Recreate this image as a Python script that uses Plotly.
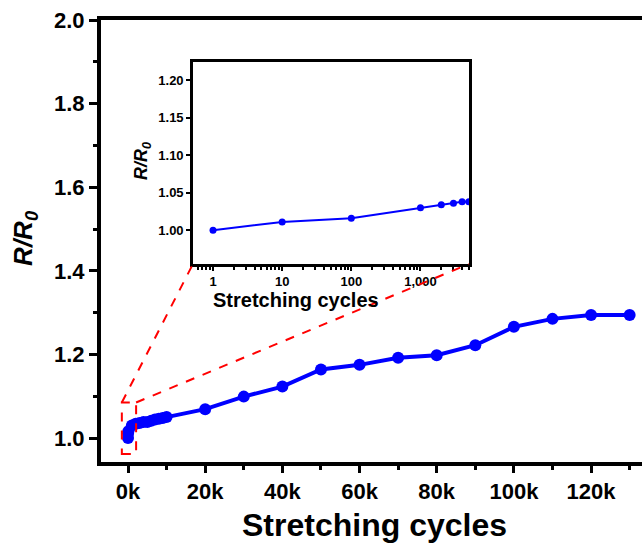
import plotly.graph_objects as go

# ---- data ----
cycles = [1, 10, 100, 1000, 2000, 3000, 4000, 5000, 6000, 7000, 8000, 9000, 10000,
          20000, 30000, 40000, 50000, 60000, 70000, 80000, 90000, 100000, 110000,
          120000, 130000]
r_ratio = [1.000, 1.011, 1.016, 1.030, 1.034, 1.036, 1.038, 1.038, 1.041, 1.044,
           1.046, 1.048, 1.050, 1.069, 1.099, 1.123, 1.164, 1.175, 1.192, 1.198,
           1.222, 1.266, 1.285, 1.294, 1.294]
inset_cycles = cycles[:8]
inset_ratio = r_ratio[:8]

main_xticks = [0, 20000, 40000, 60000, 80000, 100000, 120000]
main_xticktext = ["0k", "20k", "40k", "60k", "80k", "100k", "120k"]
main_yticks = [1.0, 1.2, 1.4, 1.6, 1.8, 2.0]
main_yticktext = ["1.0", "1.2", "1.4", "1.6", "1.8", "2.0"]
inset_xticks = [1, 10, 100, 1000]
inset_xticktext = ["1", "10", "100", "1,000"]
inset_yticks = [1.00, 1.05, 1.10, 1.15, 1.20]
inset_yticktext = ["1.00", "1.05", "1.10", "1.15", "1.20"]

FONT = "Arial, Liberation Sans, sans-serif"
BLUE = "#0000FF"

# layout geometry (pixels)
W, H = 642, 547
L, R, T, B = 101, 0, 20, 85
XR = [-7000, 133200]
YR = [0.9426, 2.0]
inset_dom_x = [0.170, 0.680]
inset_dom_y = [0.448, 0.905]

fig = go.Figure()
fig.add_trace(go.Scatter(
    x=cycles, y=r_ratio, mode="lines+markers",
    line=dict(color=BLUE, width=4), marker=dict(color=BLUE, size=12),
    xaxis="x", yaxis="y", showlegend=False))
fig.add_trace(go.Scatter(
    x=inset_cycles, y=inset_ratio, mode="lines+markers",
    line=dict(color=BLUE, width=2), marker=dict(color=BLUE, size=7),
    xaxis="x2", yaxis="y2", showlegend=False))

tickfont_main = dict(family=FONT, size=22, color="black", weight="bold")
tickfont_inset = dict(family=FONT, size=13, color="black", weight="bold")

fig.update_layout(
    width=W, height=H, margin=dict(l=L, r=R, t=T, b=B),
    paper_bgcolor="white", plot_bgcolor="white",
    xaxis=dict(range=XR, showgrid=False, zeroline=False,
               showline=True, linecolor="black", linewidth=4, mirror=True,
               tickvals=main_xticks, ticktext=main_xticktext,
               ticks="outside", ticklen=7, tickwidth=3, tickcolor="black",
               tickfont=tickfont_main,
               minor=dict(dtick=10000, tick0=0, ticks="outside", ticklen=4,
                          tickwidth=3, tickcolor="black")),
    yaxis=dict(range=YR, showgrid=False, zeroline=False,
               showline=True, linecolor="black", linewidth=4,
               tickvals=main_yticks, ticktext=main_yticktext,
               ticks="outside", ticklen=8, tickwidth=3, tickcolor="black",
               tickfont=tickfont_main,
               minor=dict(dtick=0.1, tick0=1.0, ticks="outside", ticklen=4,
                          tickwidth=3, tickcolor="black")),
    xaxis2=dict(domain=inset_dom_x, anchor="y2", type="log", range=[-0.29, 3.70],
                showgrid=False, zeroline=False, showline=True, linecolor="black",
                linewidth=2.5, mirror=True,
                tickvals=inset_xticks, ticktext=inset_xticktext,
                ticks="outside", ticklen=4, tickwidth=2, tickcolor="black",
                tickfont=tickfont_inset,
                minor=dict(ticks="outside", ticklen=3, tickwidth=1.5,
                           tickcolor="black", dtick="D1")),
    yaxis2=dict(domain=inset_dom_y, anchor="x2", range=[0.955, 1.224],
                showgrid=False, zeroline=False, showline=True, linecolor="black",
                linewidth=2.5, mirror=True,
                tickvals=inset_yticks, ticktext=inset_yticktext,
                ticks="outside", ticklen=4, tickwidth=2, tickcolor="black",
                tickfont=tickfont_inset),
)

# titles as annotations
fig.add_annotation(xref="paper", yref="paper", x=0.505, y=-0.1425,
                   text="<b>Stretching cycles</b>", showarrow=False,
                   font=dict(family=FONT, size=32, color="black"),
                   xanchor="center", yanchor="middle")
fig.add_annotation(xref="paper", yref="paper", x=-0.1405, y=0.507,
                   text="<b><i>R/R<sub>0</sub></i></b>", showarrow=False,
                   textangle=-90, font=dict(family=FONT, size=26, color="black"),
                   xanchor="center", yanchor="middle")
fig.add_annotation(xref="paper", yref="paper", x=0.3604, y=0.3665,
                   text="<b>Stretching cycles</b>", showarrow=False,
                   font=dict(family=FONT, size=20, color="black"),
                   xanchor="center", yanchor="middle")
fig.add_annotation(xref="paper", yref="paper", x=0.0776, y=0.681,
                   text="<b><i>R/R<sub>0</sub></i></b>", showarrow=False,
                   textangle=-90, font=dict(family=FONT, size=18, color="black"),
                   xanchor="center", yanchor="middle")

# zoom box and connector lines (main data coords)
box_x = [-1600, 2100]
box_y = [0.962, 1.085]
def frac_to_x(f):
    return XR[0] + f * (XR[1] - XR[0])
def frac_to_y(f):
    return YR[0] + f * (YR[1] - YR[0])

dash = dict(color="red", width=2, dash="dash")
fig.add_shape(type="rect", xref="x", yref="y", x0=box_x[0], x1=box_x[1],
              y0=box_y[0], y1=box_y[1], line=dash)
fig.add_shape(type="line", xref="x", yref="y", x0=box_x[0], y0=box_y[1],
              x1=frac_to_x(inset_dom_x[0]), y1=frac_to_y(inset_dom_y[0]), line=dash)
fig.add_shape(type="line", xref="x", yref="y", x0=box_x[1], y0=box_y[1],
              x1=frac_to_x(inset_dom_x[1]), y1=frac_to_y(inset_dom_y[0]), line=dash)

fig.write_html("out.html")
